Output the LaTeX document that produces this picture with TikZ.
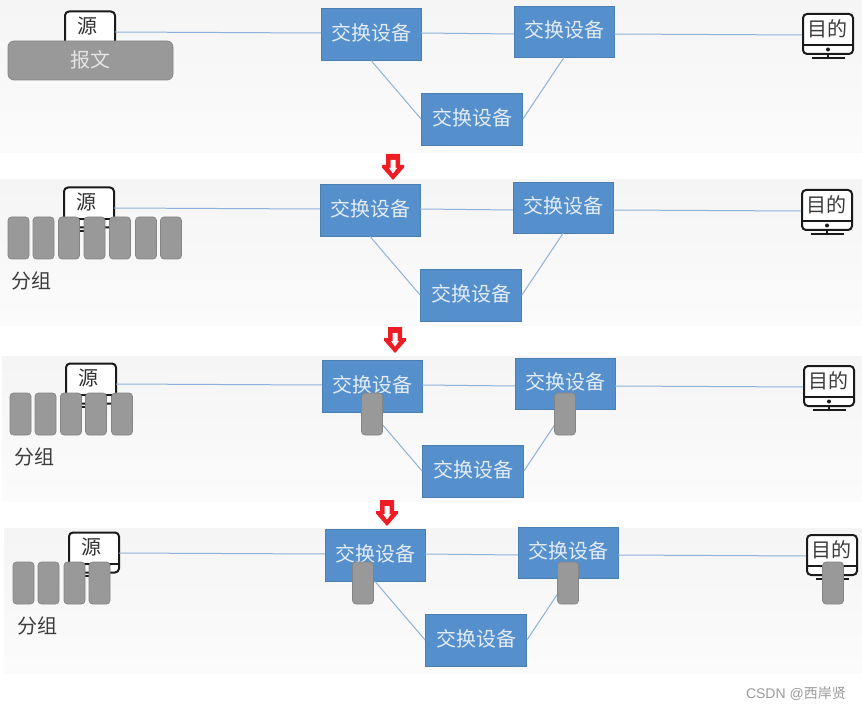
\documentclass[tikz,border=0pt]{standalone}
\usepackage{fontspec}
\setmainfont{Noto Sans CJK SC}
\newfontfamily\latinwm{Liberation Sans}
\definecolor{swfill}{HTML}{5590CC}
\definecolor{swedge}{HTML}{4A7FB2}
\definecolor{linkc}{HTML}{8DB3DA}
\definecolor{pktfill}{HTML}{999999}
\definecolor{pktedge}{HTML}{858585}
\definecolor{pkttext}{HTML}{E4E4E4}
\definecolor{swtext}{HTML}{E3ECF6}
\definecolor{inkc}{HTML}{1A1A1A}
\definecolor{txtc}{HTML}{3C3C3C}
\definecolor{arrowred}{HTML}{EE1C25}
\definecolor{wmc}{HTML}{9A9A9A}
\tikzset{
  panelbg/.style={top color=black!4,bottom color=black!1.5,draw=none},
  link/.style={draw=linkc,line width=1pt},
  switchbox/.style={rectangle,draw=swedge,fill=swfill,line width=.8pt,text=swtext,minimum width=100pt,minimum height=52pt,inner sep=0pt,font=\fontsize{20}{20}\selectfont},
  pkt/.style={rectangle,rounded corners=3.5pt,draw=pktedge,fill=pktfill,line width=.7pt,minimum width=21pt,minimum height=42pt,inner sep=0pt},
  msg/.style={rectangle,rounded corners=6pt,draw=pktedge,fill=pktfill,line width=.7pt,minimum width=165pt,minimum height=39pt,inner sep=0pt,text=pkttext,font=\fontsize{20}{20}\selectfont},
  screen/.style={rectangle,rounded corners=4pt,draw=inkc,fill=white,line width=2pt,minimum width=50pt,minimum height=40pt,inner sep=0pt},
  monline/.style={draw=inkc,line width=1.8pt},
  lbl/.style={text=txtc,font=\fontsize{20}{20}\selectfont,inner sep=0pt},
}
% #1 prefix, #2 dx, #3 dy
\newcommand{\netpanel}[3]{%
\begin{scope}[shift={(#2,#3)}]
  \node[switchbox] (#1a) at (371,34) {};
  \node[lbl,text=swtext] (#1at) at (371,32.7) {交换设备};
  \node[switchbox,minimum height=51pt] (#1b) at (564,31.5) {};
  \node[lbl,text=swtext] (#1bt) at (564.5,30.2) {交换设备};
  \node[switchbox,minimum width=101pt] (#1c) at (472,119) {};
  \node[lbl,text=swtext] (#1ct) at (472,117.7) {交换设备};
  % source monitor
  \node[screen] (#1src) at (90,31.5) {};
  \draw[monline] (65,43) -- (115,43);
  \draw[monline] (75,55) -- (106,55);
  \draw[monline] (90,51) -- (90,55);
  \node[lbl,text=inkc!90] (#1srct) at (87.5,26.5) {源};
  % destination monitor
  \node[screen] (#1dst) at (828,34) {};
  \draw[monline] (803,45) -- (853,45);
  \draw[monline] (812,58) -- (845,58);
  \draw[monline] (828,54) -- (828,58);
  \fill[inkc] (828,49.5) circle (2pt);
  \node[lbl] (#1dstt) at (827,28.5) {目的};
  \coordinate (#1bin) at (514,34);
  \coordinate (#1dstin) at (802,35);
  \coordinate (#1aout) at (421,33);
  \coordinate (#1ain) at (321,33);
  \coordinate (#1bout) at (614,34);
  \coordinate (#1srcout) at (115,32);
  \draw[link] (#1srcout) -- (#1ain);
  \draw[link] (#1aout) -- (#1bin);
  \draw[link] (#1bout) -- (#1dstin);
  \draw[link] (#1a.south) -- (#1c.west);
  \draw[link] (#1c.east) -- (#1b.south);
\end{scope}}
\newcommand{\downarrowmark}[3]{%
\begin{scope}[shift={(#2,#3)}]
  \path[fill=arrowred] (-7,0) -- (7,0) -- (7,11) -- (11,11) -- (11,13.5) -- (0,26) -- (-11,13.5) -- (-11,11) -- (-7,11) -- cycle;
  \path[fill=white] (-2.5,6) -- (2.5,6) -- (2.5,14) -- (4,14) -- (0,19.5) -- (-4,14) -- (-2.5,14) -- cycle;
  \coordinate (#1) at (0,13);
\end{scope}}
\begin{document}
\begin{tikzpicture}[x=1pt,y=-1pt]
\useasboundingbox (0,0) rectangle (862,711);
\fill[white] (0,0) rectangle (862,711);
\path[panelbg] (0,0) rectangle (862,153);
\path[panelbg] (0,180) rectangle (862,325);
\path[panelbg] (2,356) rectangle (862,501);
\path[panelbg] (4,528) rectangle (862,673);

\netpanel{p}{0}{0}
\netpanel{q}{-1}{176}
\netpanel{r}{1}{352}
\netpanel{s}{4}{521}

% panel 1
\node[msg] (msg1) at (90.5,60.5) {};
\node[lbl,text=pkttext] (msg1t) at (90,59.5) {报文};

% panel 2
\foreach \n/\x in {1/18.5,2/43.5,3/69,4/94.5,5/120,6/146,7/171}
  \node[pkt] (qp\n) at (\x,238) {};
\node[lbl] (qlab) at (32,281) {分组};

% panel 3
\foreach \n/\x in {1/20.5,2/45.5,3/71,4/96,5/122}
  \node[pkt] (rp\n) at (\x,414) {};
\node[pkt] (rm1) at (372,414) {};
\node[pkt] (rm2) at (565,414) {};
\node[lbl] (rlab) at (34,457) {分组};

% panel 4
\foreach \n/\x in {1/23.5,2/48.5,3/74.5,4/99.5}
  \node[pkt] (sp\n) at (\x,583) {};
\node[pkt] (sm1) at (363,583) {};
\node[pkt] (sm2) at (568,583) {};
\node[pkt] (sm3) at (833,583) {};
\node[lbl] (slab) at (37,626) {分组};

% red arrows
\downarrowmark{ua}{393}{154}
\downarrowmark{ub}{395}{327}
\downarrowmark{uc}{387}{500}

\node[text=wmc,font=\fontsize{14}{14}\selectfont,anchor=east,inner sep=0pt] (wm) at (846,694) {{\latinwm CSDN @}西岸贤};
\end{tikzpicture}
\end{document}
